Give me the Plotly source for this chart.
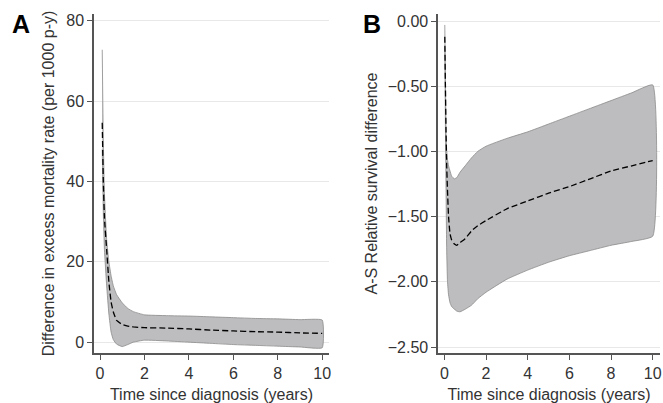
import plotly.graph_objects as go

# Panel A: difference in excess mortality rate (per 1000 p-y)
a_x = [0.1, 0.15, 0.2, 0.3, 0.4, 0.5, 0.6, 0.75, 1.0, 1.25, 1.5, 2, 3, 4, 5, 6, 7, 8, 9, 10]
a_upper = [72.8, 50, 37, 25.5, 20, 16.5, 14, 11.8, 9.8, 8.4, 7.6, 6.8, 6.6, 6.5, 6.3, 6.1, 5.9, 5.8, 5.6, 5.5]
a_mid = [54.6, 40, 31, 23, 15, 10, 7.5, 5.4, 4.4, 4.0, 3.8, 3.6, 3.5, 3.3, 3.0, 2.8, 2.6, 2.5, 2.3, 2.2]
a_lower = [48, 32, 23, 14, 7, 2.5, 0.6, -0.5, -1.1, -0.6, 0.0, 0.5, 0.3, 0.0, -0.3, -0.6, -0.8, -1.0, -1.2, -1.4]

# Panel B: A-S relative survival difference
b_x = [0.02, 0.05, 0.08, 0.11, 0.15, 0.2, 0.27, 0.35, 0.48, 0.6, 0.75, 1.0, 1.3, 1.6, 2, 3, 4, 5, 6, 7, 8, 9, 10]
b_upper = [-0.03, -0.45, -0.85, -0.99, -1.06, -1.11, -1.15, -1.19, -1.21, -1.2, -1.16, -1.11, -1.05, -1.0, -0.96,
           -0.90, -0.85, -0.79, -0.73, -0.67, -0.61, -0.55, -0.49]
b_mid = [-0.12, -0.5, -0.85, -1.1, -1.3, -1.5, -1.63, -1.68, -1.71, -1.72, -1.70, -1.67, -1.61, -1.57, -1.53,
         -1.44, -1.38, -1.32, -1.27, -1.21, -1.15, -1.11, -1.07]
b_lower = [-0.2, -0.8, -1.3, -1.75, -2.0, -2.1, -2.16, -2.19, -2.21, -2.225, -2.23, -2.21, -2.18, -2.13, -2.08,
           -1.98, -1.91, -1.85, -1.80, -1.76, -1.72, -1.69, -1.65]

x_ticks = [0, 2, 4, 6, 8, 10]
a_ticks = [0, 20, 40, 60, 80]
b_ticks = [0.0, -0.5, -1.0, -1.5, -2.0, -2.5]

band_fill = "#bdbdbf"
band_line = "#8a8a8a"
FONT = "Liberation Sans, Arial"
TXT = "#333333"

fig = go.Figure()


def add_panel(x, lo, hi, mid, xa, ya):
    fig.add_trace(go.Scatter(
        x=list(x) + list(x)[::-1], y=list(hi) + list(lo)[::-1],
        fill="toself", fillcolor=band_fill, mode="lines",
        line=dict(color=band_line, width=0.8, shape="spline", smoothing=0.4),
        xaxis=xa, yaxis=ya, showlegend=False, hoverinfo="skip"))
    fig.add_trace(go.Scatter(
        x=x, y=mid, mode="lines",
        line=dict(color="black", width=1.3, dash="6px,3px", shape="spline", smoothing=0.4),
        xaxis=xa, yaxis=ya, showlegend=False))


add_panel(a_x, a_lower, a_upper, a_mid, "x", "y")
add_panel(b_x, b_lower, b_upper, b_mid, "x2", "y2")

axis_common = dict(
    showline=True, linecolor="#555555", linewidth=1.5,
    ticks="outside", ticklen=5, tickcolor="#555555", tickwidth=1.2,
    tickfont=dict(family=FONT, size=16, color=TXT),
    zeroline=False, automargin=False,
)

fig.update_layout(
    width=663, height=403,
    margin=dict(l=94, r=3, t=14, b=50),
    paper_bgcolor="white", plot_bgcolor="white",
    xaxis=dict(domain=[0, 0.415], range=[-0.27, 10.3], tickvals=x_ticks,
               showgrid=False, anchor="y",
               title=dict(text="Time since diagnosis (years)", standoff=9,
                          font=dict(family=FONT, size=16, color=TXT)),
               **axis_common),
    yaxis=dict(range=[-2.7, 81.7], tickvals=a_ticks, anchor="x",
               showgrid=True, gridcolor="#e8e8e8", gridwidth=1,
               title=dict(text="Difference in excess mortality rate (per 1000 p-y)", standoff=8,
                          font=dict(family=FONT, size=16, color=TXT)),
               **axis_common),
    xaxis2=dict(domain=[0.608, 1.0], range=[-0.3, 10.35], tickvals=x_ticks,
                showgrid=False, anchor="y2",
                title=dict(text="Time since diagnosis (years)", standoff=9,
                           font=dict(family=FONT, size=16, color=TXT)),
                **axis_common),
    yaxis2=dict(range=[-2.546, 0.054], tickvals=b_ticks, tickformat=".2f", anchor="x2",
                showgrid=True, gridcolor="#e8e8e8", gridwidth=1,
                title=dict(text="A-S Relative survival difference", standoff=6,
                           font=dict(family=FONT, size=16, color=TXT)),
                **axis_common),
)

# panel labels placed from pixel positions of the reference
pw = 663 - 94 - 3
ph = 403 - 14 - 50
for lab, px, py in [("A", 20.5, 24), ("B", 371.5, 24)]:
    fig.add_annotation(text="<b>%s</b>" % lab, x=(px - 94) / pw, y=1 - (py - 14) / ph,
                       xref="paper", yref="paper", showarrow=False,
                       xanchor="center", yanchor="middle",
                       font=dict(family=FONT, size=25, color="black"))

fig.write_html("out.html", config={"displayModeBar": False},
               post_script="document.body.style.margin='0';document.body.style.overflow='hidden';")
